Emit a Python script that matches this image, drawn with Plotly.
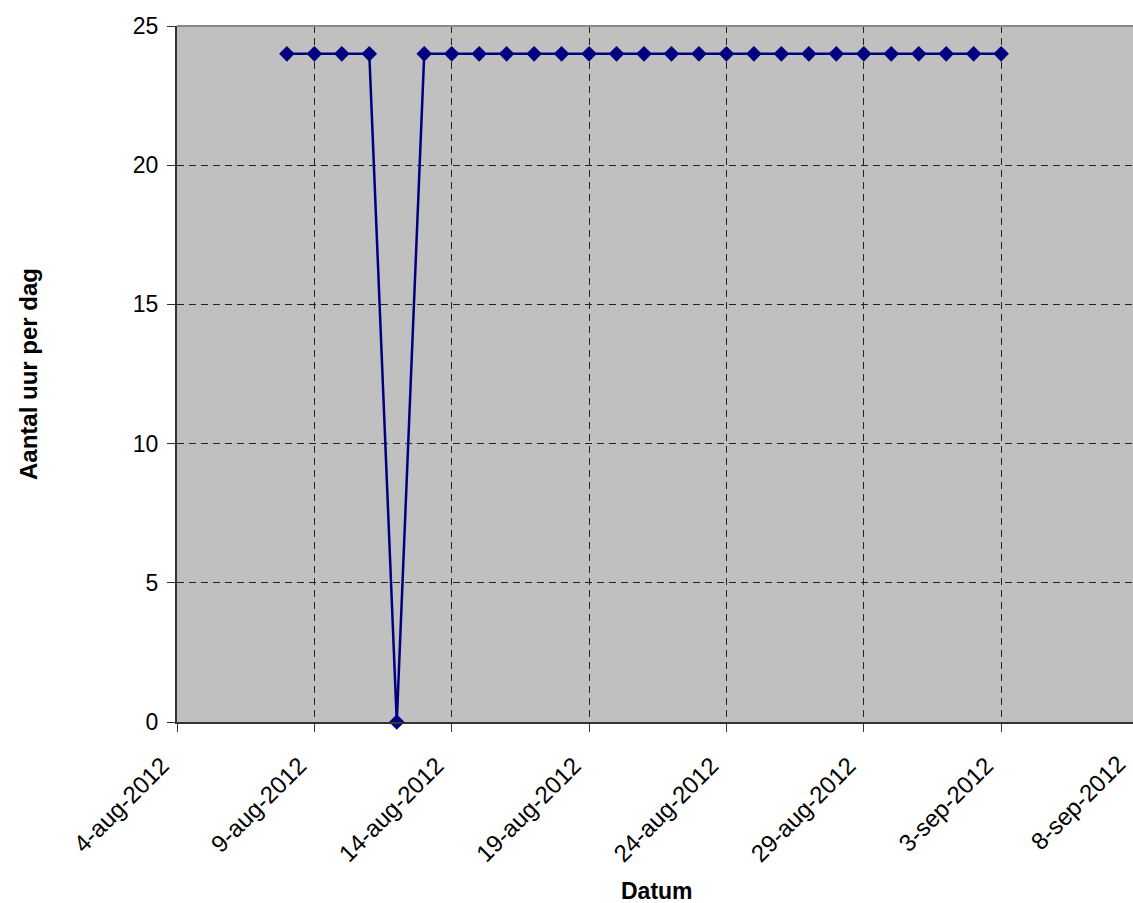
import plotly.graph_objects as go
import pandas as pd

dates = pd.date_range("2012-08-08", "2012-09-03", freq="D")
hours = [24, 24, 24, 24, 0] + [24] * 22

tick_dates = ["2012-08-04", "2012-08-09", "2012-08-14", "2012-08-19",
              "2012-08-24", "2012-08-29", "2012-09-03"]
tick_labels = ["4-aug-2012", "9-aug-2012", "14-aug-2012", "19-aug-2012",
               "24-aug-2012", "29-aug-2012", "3-sep-2012"]
last_tick_label = "8-sep-2012"

fig = go.Figure()
fig.add_trace(go.Scatter(
    x=dates, y=hours, mode="lines+markers",
    line=dict(color="#000080", width=2.5),
    marker=dict(symbol="diamond", size=12, color="#000080"),
    cliponaxis=False, showlegend=False,
))

font = "Liberation Sans, Arial, sans-serif"
fig.update_layout(
    width=1133, height=903,
    margin=dict(l=177, r=0, t=26, b=181),
    paper_bgcolor="white", plot_bgcolor="#C0C0C0",
    font=dict(family=font, color="black", size=23),
    xaxis=dict(
        range=["2012-08-04", "2012-09-07 19:12"],
        tickvals=tick_dates, ticktext=tick_labels, tickangle=-45,
        ticks="outside", ticklen=8, tickcolor="#333",
        tickfont=dict(size=24), ticklabelshift=-15, ticklabelstandoff=10,
        showgrid=True, gridcolor="#222", griddash="7px,5px", gridwidth=1,
        showline=True, linecolor="#333", linewidth=2,
        zeroline=False,
    ),
    yaxis=dict(
        range=[0, 25], tickvals=[0, 5, 10, 15, 20, 25],
        ticks="outside", ticklen=8, tickcolor="#333",
        tickfont=dict(size=23), ticklabelstandoff=4,
        showgrid=True, gridcolor="#222", griddash="7px,5px", gridwidth=1,
        showline=True, linecolor="#333", linewidth=2,
        zeroline=False,
        title=dict(text="<b>Aantal uur per dag</b>", font=dict(size=24), standoff=88),
    ),
    annotations=[
        dict(x=1.0, xref="paper", y=0, yref="paper",
             text=last_tick_label, textangle=-45, showarrow=False,
             xanchor="right", yanchor="top", xshift=0, yshift=-25,
             font=dict(size=24)),
        dict(x=0.5016, xref="paper", y=-0.2428, yref="paper",
             text="<b>Datum</b>", showarrow=False,
             xanchor="center", yanchor="middle", font=dict(size=23)),
    ],
    shapes=[dict(type="line", xref="paper", yref="paper", x0=0, x1=1, y0=1, y1=1,
                 line=dict(color="#888", width=2))],
)
fig.write_html("out.html")
